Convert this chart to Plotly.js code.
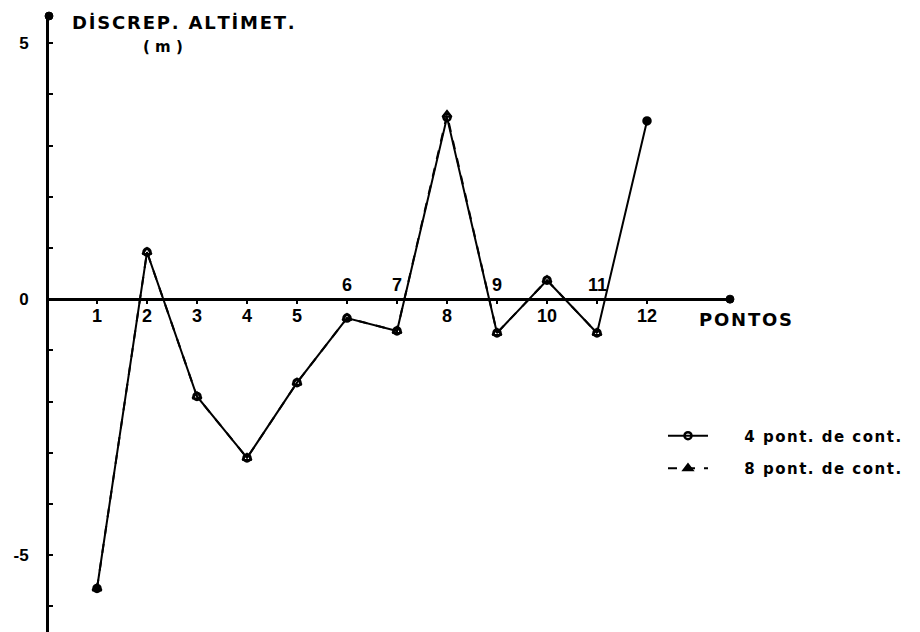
<!DOCTYPE html>
<html>
<head>
<meta charset="utf-8">
<script src="https://cdn.plot.ly/plotly-3.0.1.min.js"></script>
<style>
  html, body { margin: 0; padding: 0; background: #fff; }
  #chart { width: 920px; height: 632px; }
</style>
</head>
<body>
<div id="chart"></div>
<script>
// Altimetric discrepancy (m) at each check point
const pontos = [1, 2, 3, 4, 5, 6, 7, 8, 9, 10, 11, 12];
const discrep4 = [-5.65, 0.92, -1.9, -3.1, -1.63, -0.37, -0.62, 3.55, -0.66, 0.37, -0.66, 3.48];
const discrep8 = [-5.65, 0.92, -1.9, -3.1, -1.63, -0.37, -0.62, 3.6, -0.66, 0.37, -0.66];
const pointLabels = ['1', '2', '3', '4', '5', '6', '7', '8', '9', '10', '11', '12'];
const yTickVals = [-5, 0, 5];
const yTickText = ['-5', '0', '5'];
const series4Name = '4 pont. de cont.';
const series8Name = '8 pont. de cont.';
const yTitle = 'DİSCREP. ALTİMET.';
const yUnit = '( m )';
const xTitle = 'PONTOS';

// points whose number sits above the axis because the line passes below it
const labelsAbove = new Set([6, 7, 9, 11]);

const xRange = [0.04, 13.66];
const yRange = [-6.5, 5.53];
const axisPos = (0 - yRange[0]) / (yRange[1] - yRange[0]);

// hand-lettered look: open the letters up a little with hair spaces
const spaced = s => Array.from(s).join('\u200A');
const nb = n => '\u00A0'.repeat(n);

const dejavu = { family: 'DejaVu Sans, sans-serif', color: '#000', weight: 'bold' };
const narrow = { family: 'Liberation Sans, Arial, sans-serif', color: '#000', weight: 'bold' };

const traces = [
  {
    x: pontos.slice(0, discrep8.length), y: discrep8,
    name: nb(6) + spaced(series8Name), legendgroup: 'g8', legendrank: 2,
    mode: 'lines+markers', cliponaxis: false,
    line: { color: '#000', width: 2, dash: 'dash' },
    marker: {
      symbol: discrep8.map((v, i) => i === 0 ? 'triangle-up' : 'triangle-up-open'),
      size: 8, color: '#000', line: { width: 2, color: '#000' }
    }
  },
  {
    x: pontos, y: discrep4,
    name: nb(6) + spaced(series4Name), legendgroup: 'g4', legendrank: 1,
    mode: 'lines+markers', cliponaxis: false,
    line: { color: '#000', width: 2 },
    marker: {
      symbol: discrep4.map((v, i) => i === discrep4.length - 1 ? 'circle' : 'circle-open'),
      size: 7, color: '#000', line: { width: 2.5, color: '#000' }
    }
  }
];

const annotations = pontos.map((p, i) => ({
  x: p, y: 0, xref: 'x', yref: 'y',
  text: pointLabels[i], showarrow: false,
  yanchor: labelsAbove.has(p) ? 'bottom' : 'top',
  yshift: labelsAbove.has(p) ? 2 : -5,
  font: Object.assign({ size: 18 }, narrow)
}));

annotations.push(
  { xref: 'paper', yref: 'y', x: 1, y: 0, xanchor: 'left', yanchor: 'middle', xshift: -33, yshift: -20,
    text: spaced(xTitle), showarrow: false, font: Object.assign({ size: 18 }, dejavu) },
  { xref: 'paper', yref: 'paper', x: 0, y: 1, xanchor: 'left', yanchor: 'middle', xshift: 21, yshift: -6,
    text: spaced(yTitle), showarrow: false, font: Object.assign({ size: 18 }, dejavu) },
  { xref: 'paper', yref: 'paper', x: 0, y: 1, xanchor: 'center', yanchor: 'middle', xshift: 114, yshift: -31,
    text: yUnit, showarrow: false, font: Object.assign({ size: 15 }, dejavu) }
);

const layout = {
  width: 920, height: 632,
  margin: { l: 49, r: 190, t: 16, b: 0 },
  paper_bgcolor: '#fff', plot_bgcolor: '#fff',
  showlegend: true,
  legend: {
    x: 0.9016, y: 0.345, xanchor: 'left', yanchor: 'top', xref: 'paper', yref: 'paper',
    traceorder: 'grouped', bgcolor: 'rgba(0,0,0,0)',
    font: Object.assign({ size: 15 }, dejavu), itemwidth: 40, tracegroupgap: 10
  },
  xaxis: {
    range: xRange, anchor: 'free', position: axisPos,
    showgrid: false, zeroline: false,
    showline: true, linecolor: '#000', linewidth: 3,
    tickvals: pontos, ticks: 'outside', ticklen: 3, tickwidth: 2, tickcolor: '#000',
    showticklabels: false, fixedrange: true
  },
  yaxis: {
    range: yRange, showgrid: false, zeroline: false,
    showline: true, linecolor: '#000', linewidth: 3,
    tickvals: yTickVals, ticktext: yTickText,
    ticks: 'inside', ticklen: 4, tickwidth: 2, tickcolor: '#000',
    minor: { dtick: 1, tick0: 0, ticks: 'inside', ticklen: 4, tickwidth: 2, tickcolor: '#000' },
    tickfont: Object.assign({ size: 17 }, narrow),
    ticklabelstandoff: 14, fixedrange: true
  },
  shapes: [
    // arrow dots at the ends of both axes
    { type: 'circle', xref: 'paper', yref: 'paper', x0: -4, x1: 4, y0: -4, y1: 4,
      xsizemode: 'pixel', ysizemode: 'pixel', xanchor: 0, yanchor: 1,
      fillcolor: '#000', line: { color: '#000', width: 1 } },
    { type: 'circle', xref: 'paper', yref: 'y', x0: -4, x1: 4, y0: -4, y1: 4,
      xsizemode: 'pixel', ysizemode: 'pixel', xanchor: 1, yanchor: 0,
      fillcolor: '#000', line: { color: '#000', width: 1 } }
  ],
  annotations: annotations
};

Plotly.newPlot('chart', traces, layout, { displayModeBar: false, staticPlot: true });
</script>
</body>
</html>
